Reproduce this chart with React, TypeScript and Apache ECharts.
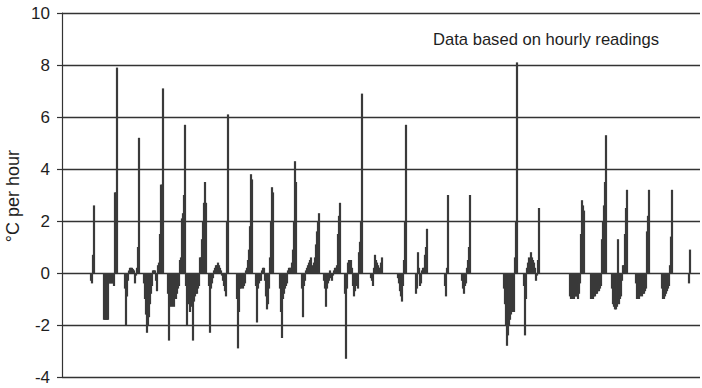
import React, { useEffect, useRef } from "react";
import * as echarts from "echarts";

// Hourly rate of temperature change (°C per hour). Each run: [start hour, consecutive hourly values]
const run01: [number, number[]] = [29, [-0.3, -0.4, 0.7, 2.6]];
const run02: [number, number[]] = [42, [-1.8, -1.8, -1.8, -1.8, -1.8, -0.4, -0.4, -0.4, -0.4, -0.4, -0.5, 3.1, 3.1, 7.9]];
const run03: [number, number[]] = [63, [-0.6, -2.0, -0.9, -0.3, 0.1, 0.2, 0.2, 0.2, 0.15, 0.1, -0.4, -0.1, 0.2, 1.0, 5.2]];
const run04: [number, number[]] = [82, [-0.4, -1.0, -1.6, -2.3, -2.0, -1.7, -1.2, -0.8, -0.5, 0.1, 0.1, 0.1, -0.3, -0.7, 0.3, 0.4, 1.5, 3.4, 3.4, 7.1]];
const run05: [number, number[]] = [106, [-0.8, -2.6, -1.3, -1.2, -1.3, -1.0, -1.3, -0.9, -1.0, -0.8, -0.6, -0.5, 0.5, 0.6, 2.1, 2.3, 3.0, 5.7]];
const run06: [number, number[]] = [124, [-0.5, -2.0, -0.9, -1.2, -1.5, -1.0, -1.3, -2.6, -1.1, -0.9, -0.8, -0.8, -0.6, -0.5, 0.6, 0.6, 1.3, 2.0, 2.7, 3.5, 2.7]];
const run07: [number, number[]] = [147, [-0.5, -2.3, -0.6, -0.4, -0.2, 0.1, 0.2, 0.3, 0.3, 0.4, 0.3, 0.2, 0.1, -0.1, -0.3, -0.5, -0.7, -0.9, 2.0, 6.1]];
const run08: [number, number[]] = [175, [-1.0, -2.9, -1.5, -0.6, -0.6, -0.5, -0.6, -0.5, -0.4, 0.1, 0.2, 0.5, 0.9, 1.8, 3.8, 3.6]];
const run09: [number, number[]] = [194, [-0.5, -1.9, -0.6, -0.4, -0.3, -0.3, 0.1, 0.2, 0.2, -0.3, -0.9, -1.4, -1.2, -0.6, 0.6, 2.0, 3.3, 3.1]];
const run10: [number, number[]] = [218, [-0.6, -1.5, -2.5, -1.0, -0.8, -0.6, -0.5, -0.4, 0.1, 0.2, 0.2, 0.2, 0.4, 0.9, 2.0, 4.3, 3.5]];
const run11: [number, number[]] = [240, [-0.6, -1.7, -0.5, -0.3, 0.1, 0.2, 0.3, 0.4, 0.5, 0.6, 0.3, 0.2, 0.4, 0.6, 1.1, 1.6, 2.0, 2.3]];
const run12: [number, number[]] = [262, [-0.3, -0.6, -1.3, -0.6, -0.4, -0.3, 0.1, -0.2, -0.3, -0.1, 0.1, 0.2, 0.2, 0.3, 1.5, 2.2, 2.7]];
const run13: [number, number[]] = [283, [-0.8, -3.3, -0.6, 0.4, 0.5, 0.5, 0.5, 0.2, -0.5, -0.9, -0.7, -0.5, -0.4, -0.6, 0.8, 1.2, 2.0, 6.9]];
const run14: [number, number[]] = [309, [-0.2, -0.3, -0.5, 0.2, 0.7, 0.5, 0.4, 0.3, 0.2, 0.2, 0.4, 0.6]];
const run15: [number, number[]] = [336, [-0.2, -0.4, -0.7, -0.9, -1.1, -0.5, 0.5, 2.0, 5.7]];
const run16: [number, number[]] = [354, [-0.8, -0.6, 0.8, 0.2, -0.5, -0.4, 0.1, 0.2, 0.2, 0.7, 1.0, 1.7]];
const run17: [number, number[]] = [383, [-0.5, -0.9, 0.2, 3.0]];
const run18: [number, number[]] = [400, [-0.3, -0.6, -0.8, -0.5, -0.4, 0.2, 0.5, 1.0, 3.0]];
const run19: [number, number[]] = [442, [-0.6, -1.2, -2.0, -2.8, -2.4, -2.0, -1.8, -1.6, -1.4, -1.5, -1.5, 0.6, 2.0, 8.1]];
const run20: [number, number[]] = [462, [-0.5, -2.4, -1.0, 0.2, 0.4, 0.6, 0.5, 0.8, 0.6, 0.5, 0.4, 0.2, -0.3, -0.1, 0.5, 2.5]];
const run21: [number, number[]] = [508, [-0.9, -1.0, -1.0, -0.9, -1.0, -0.9, -0.9, -0.9, -1.0, -0.8, -0.4, 1.5, 2.8, 2.6, 2.4]];
const run22: [number, number[]] = [529, [-1.0, -1.0, -1.0, -0.9, -0.9, -0.8, -0.8, -0.7, -0.7, -0.6, -0.5, 1.3, 2.0, 2.6, 3.5, 5.3]];
const run23: [number, number[]] = [550, [-0.6, -1.2, -1.3, -1.4, -1.4, -1.3, 1.3, -1.2, -1.0, -0.9, -0.3, 0.3, 0.3, 1.5, 2.5, 3.2]];
const run24: [number, number[]] = [574, [-0.4, -1.0, -1.0, -1.0, -0.9, -0.8, -0.9, -0.8, -0.8, -0.7, -0.6, 1.6, 2.2, 3.2]];
const run25: [number, number[]] = [600, [-0.6, -1.0, -1.0, -0.9, -0.8, -0.7, -0.6, -0.5, 0.3, 1.4, 3.2]];
const run26: [number, number[]] = [627, [-0.4, 0.9]];

const runs = [run01, run02, run03, run04, run05, run06, run07, run08, run09, run10, run11, run12, run13,
  run14, run15, run16, run17, run18, run19, run20, run21, run22, run23, run24, run25, run26];

const yTicks = [-4, -2, 0, 2, 4, 6, 8, 10];
const hoursTotal = 638;
const yTitle = "°C per hour";
const note = "Data based on hourly readings";

export default function App() {
  const ref = useRef<HTMLDivElement>(null);
  useEffect(() => {
    if (!ref.current) return;
    const chart = echarts.init(ref.current, undefined, { renderer: "svg" });
    const data: [number, number][] = [];
    runs.forEach(([start, vals]) => vals.forEach((v, i) => data.push([start + i, v])));
    chart.setOption({
      animation: false,
      backgroundColor: "#ffffff",
      grid: { left: 62, right: 2, top: 13, bottom: 11 },
      xAxis: {
        type: "value",
        min: 0,
        max: hoursTotal,
        axisLine: { show: false },
        axisTick: { show: false },
        axisLabel: { show: false },
        splitLine: { show: false },
      },
      yAxis: {
        type: "value",
        min: yTicks[0],
        max: yTicks[yTicks.length - 1],
        interval: 2,
        axisLine: { show: true, lineStyle: { color: "#333", width: 1.2 } },
        axisTick: { show: true, length: 5, lineStyle: { color: "#333", width: 1.2 } },
        axisLabel: {
          color: "#1e1e1e",
          fontSize: 17,
          fontFamily: "Liberation Sans, Arial, sans-serif",
          margin: 12,
        },
        splitLine: { show: true, lineStyle: { color: "#333", width: 1.4 } },
      },
      series: [
        {
          type: "bar",
          data,
          barWidth: 2.2,
          itemStyle: { color: "#3a3a3a" },
          silent: true,
        },
      ],
      graphic: [
        {
          type: "text",
          x: 13,
          y: 196,
          rotation: Math.PI / 2,
          style: {
            text: yTitle,
            fontSize: 18,
            fontFamily: "Liberation Sans, Arial, sans-serif",
            fill: "#1e1e1e",
            textAlign: "center",
            textVerticalAlign: "middle",
          },
        },
        {
          type: "text",
          x: 433,
          y: 39,
          style: {
            text: note,
            fontSize: 16.6,
            fontFamily: "Liberation Sans, Arial, sans-serif",
            fill: "#1e1e1e",
            textAlign: "left",
            textVerticalAlign: "middle",
          },
        },
      ],
    });
    return () => chart.dispose();
  }, []);
  return <div ref={ref} style={{ position: "fixed", left: 0, top: 0, width: 702, height: 388 }} />;
}
